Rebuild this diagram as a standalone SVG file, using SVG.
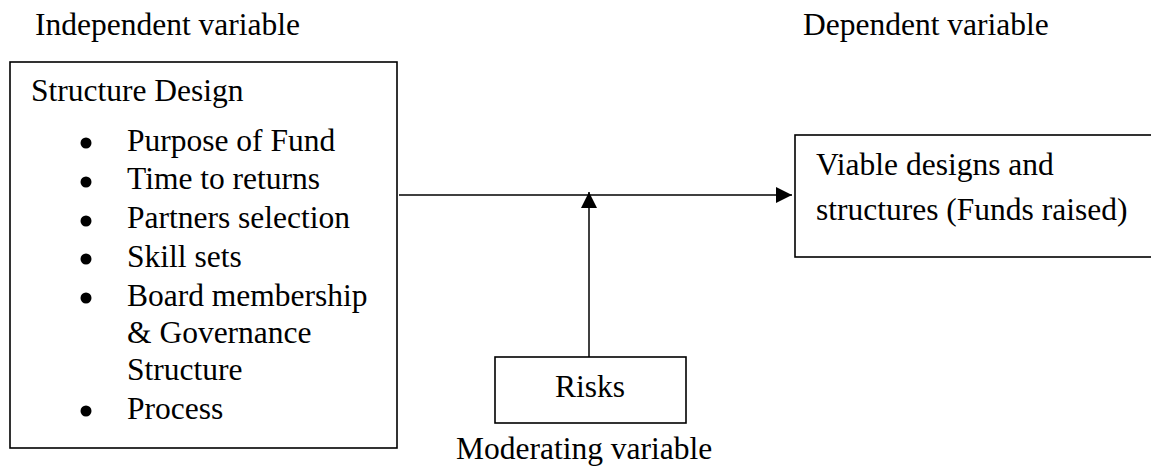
<svg xmlns="http://www.w3.org/2000/svg" width="1151" height="466" viewBox="0 0 1151 466">
<style>
text{font-family:"Liberation Serif","Times New Roman",serif;font-size:31.5px;fill:#000}
.box{fill:#fff;stroke:#000;stroke-width:1.6}
.conn{stroke:#000;stroke-width:1.5;fill:none}
</style>
<defs>
<marker id="arr" viewBox="0 0 16 16" refX="16" refY="8" markerWidth="16" markerHeight="16" markerUnits="userSpaceOnUse" orient="auto">
<path d="M0,0 L16,8 L0,16 Z" fill="#000"/>
</marker>
</defs>
<rect width="1151" height="466" fill="#fff"/>
<g id="labels">
<text x="35" y="35">Independent variable</text>
<text x="803" y="35">Dependent variable</text>
<text x="456" y="459">Moderating variable</text>
</g>
<g id="structure-design">
<rect class="box" x="10" y="62" width="387" height="386"/>
<text x="31" y="101">Structure Design</text>
<g fill="#000">
<circle cx="86" cy="143" r="5.5"/>
<circle cx="86" cy="182" r="5.5"/>
<circle cx="86" cy="221" r="5.5"/>
<circle cx="86" cy="259" r="5.5"/>
<circle cx="86" cy="298" r="5.5"/>
<circle cx="86" cy="411" r="5.5"/>
</g>
<text x="127" y="151">Purpose of Fund</text>
<text x="127" y="189">Time to returns</text>
<text x="127" y="228">Partners selection</text>
<text x="127" y="267">Skill sets</text>
<text x="127" y="306">Board membership</text>
<text x="127" y="343">&amp; Governance</text>
<text x="127" y="380">Structure</text>
<text x="127" y="419">Process</text>
</g>
<g id="risks">
<rect class="box" x="495" y="357" width="191" height="66"/>
<text x="590" y="397" text-anchor="middle">Risks</text>
</g>
<g id="viable">
<rect class="box" x="795" y="135" width="370" height="122"/>
<text x="816" y="175">Viable designs and</text>
<text x="816" y="220">structures (Funds raised)</text>
</g>
<g id="connectors">
<line class="conn" x1="399" y1="195" x2="792" y2="195" marker-end="url(#arr)"/>
<line class="conn" x1="589" y1="357" x2="589" y2="192" marker-end="url(#arr)"/>
</g>
</svg>
